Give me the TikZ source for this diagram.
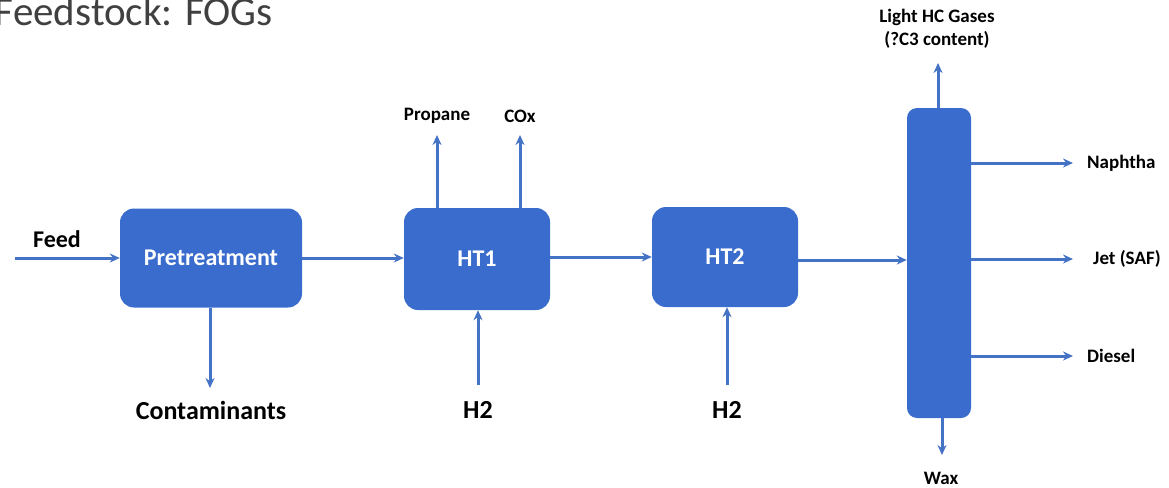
\documentclass[tikz,border=0pt]{standalone}
\usepackage{fontspec}
\setmainfont{Carlito}
\usetikzlibrary{arrows.meta}
\definecolor{boxblue}{RGB}{58,108,205}
\definecolor{linblue}{RGB}{68,114,196}
\definecolor{titlegray}{RGB}{64,64,64}
\begin{document}
\begin{tikzpicture}[x=1pt,y=-1pt,
  unit/.style={draw=none,fill=boxblue,rounded corners=14pt,inner sep=0pt,
    text=white,font=\fontsize{24}{26}\selectfont\bfseries},
  flow/.style={draw=linblue,line width=3pt,-{Stealth[length=10pt,width=9pt]}},
  lab/.style={inner sep=0pt,font=\fontsize{19}{21}\selectfont\bfseries,text=black},
  biglab/.style={inner sep=0pt,font=\fontsize{26}{28}\selectfont\bfseries,text=black}]
\useasboundingbox (0,0) rectangle (1169,487);
\node[anchor=base east,inner sep=0pt,text=titlegray,font=\fontsize{41}{44}\selectfont] (title) at (273,26) {Feedstock: FOGs};
% units
\node[unit,minimum width=182pt,minimum height=99pt] (pre) at (211,258) {Pretreatment};
\node[unit,minimum width=146pt,minimum height=102pt] (ht1) at (477,259) {HT1};
\node[unit,minimum width=146pt,minimum height=100pt] (ht2) at (725,257) {HT2};
\node[unit,rounded corners=10pt,minimum width=64pt,minimum height=310pt] (col) at (939,263) {};
% coordinates
\coordinate (feedin) at (15,258);
\coordinate (contam) at (210,388);
\coordinate (prop) at (437,135);
\coordinate (cox) at (520,135);
\coordinate (h2a) at (478,385);
\coordinate (h2b) at (727,385);
\coordinate (lhc) at (938,63);
\coordinate (naph) at (1073,163);
\coordinate (jet) at (1073,259);
\coordinate (dies) at (1073,356);
\coordinate (wax) at (942,455);
% labels
\node[lab,font=\fontsize{24}{26}\selectfont\bfseries] (feedl) at (57,239) {Feed};
\node[biglab] (contl) at (211,410) {Contaminants};
\node[lab] (propl) at (437,116) {Propane};
\node[lab] (coxl) at (520,116) {COx};
\node[biglab] (h2al) at (478,410) {H2};
\node[biglab] (h2bl) at (727,410) {H2};
\node[lab,align=center,font=\fontsize{19}{23}\selectfont\bfseries] (lhcl) at (937,29) {Light HC Gases\\(?C3 content)};
\node[lab,anchor=west] (naphl) at (1087,163) {Naphtha};
\node[lab,anchor=west] (jetl) at (1093,259) {Jet (SAF)};
\node[lab,anchor=west] (diesl) at (1087,356) {Diesel};
\node[lab] (waxl) at (941,478) {Wax};
% flows
\draw[flow] (feedin) -- (pre.west);
\draw[flow] (pre.south -| contam) -- (contam);
\draw[flow] (pre.east) -- (ht1.west |- pre.east);
\draw[flow] (ht1.north -| prop) -- (prop);
\draw[flow] (ht1.north -| cox) -- (cox);
\draw[flow] (h2a) -- (ht1.south -| h2a);
\draw[flow] (ht1.east |- 0,257) -- (ht2.west |- 0,257);
\draw[flow] (h2b) -- (ht2.south -| h2b);
\draw[flow] (ht2.east |- 0,260) -- (col.west |- 0,260);
\draw[flow] (col.north -| lhc) -- (lhc);
\draw[flow] (col.east |- naph) -- (naph);
\draw[flow] (col.east |- jet) -- (jet);
\draw[flow] (col.east |- dies) -- (dies);
\draw[flow] (col.south -| wax) -- (wax);
\end{tikzpicture}
\end{document}
